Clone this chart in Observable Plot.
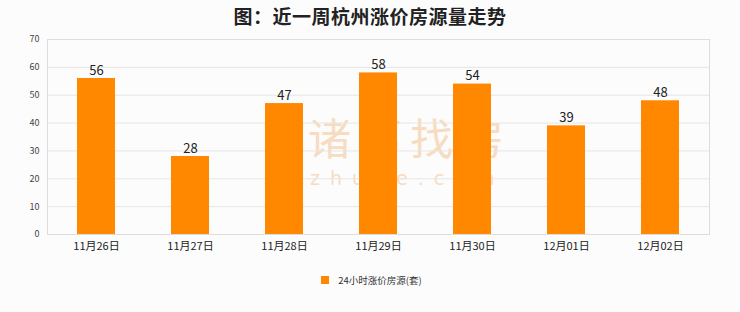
<!DOCTYPE html>
<html><head><meta charset="utf-8">
<script src="https://cdn.jsdelivr.net/npm/d3@7"></script>
<script src="https://cdn.jsdelivr.net/npm/@observablehq/plot@0.6"></script>
<style>
html{margin:0;background:#fcfcfc}
body{margin:0;font-family:"Noto Sans CJK SC",sans-serif;width:740px;height:312px;overflow:hidden;position:relative}
#title{height:30px;line-height:32px;text-align:center;font-size:19px;font-weight:bold;color:#222;letter-spacing:0.5px}
#legend{display:flex;justify-content:center;align-items:center;margin-top:13px;font-size:9.5px;color:#333;padding-left:3px}
#legend span.sw{display:inline-block;width:8px;height:8px;background:#ff8800;margin-right:9px}
#wm{position:absolute;left:308px;top:110px;z-index:-1;color:#f7dcc2;text-align:left}
#wm .a{font-size:43px;line-height:52px;letter-spacing:8px}
#wm .b{font-size:19px;line-height:20px;margin-top:6px;letter-spacing:10px;padding-left:2px;font-family:"DejaVu Sans",sans-serif}
</style></head>
<body>
<div id="wm"><div class="a">诸葛找房</div><div class="b">zhuge.com</div></div>
<div id="title">图：近一周杭州涨价房源量走势</div>
<div id="chart"></div>
<div id="legend"><span class="sw"></span><span>24小时涨价房源(套)</span></div>
<script>
const dates = ["11月26日","11月27日","11月28日","11月29日","11月30日","12月01日","12月02日"];
const values = [56,28,47,58,54,39,48];
const yTicks = [0,10,20,30,40,50,60,70];
const data = dates.map((d,i)=>({date:d,value:values[i]}));
const chart = Plot.plot({
  width:740, height:230,
  marginLeft:47, marginRight:31, marginTop:9, marginBottom:26,
  style:{background:"transparent",fontFamily:"'Noto Sans CJK SC',sans-serif"},
  x:{domain:dates, paddingInner:0.6, paddingOuter:0.3, label:null, tickSize:0, tickPadding:8},
  y:{domain:[0,70], ticks:yTicks, label:null, tickSize:0, tickPadding:8},
  marks:[
    Plot.gridY(yTicks,{stroke:"#e6e6e6",strokeOpacity:1}),
    Plot.frame({stroke:"#dddddd"}),
    Plot.barY(data,{x:"date",y:"value",fill:"#ff8800"}),
    Plot.text(data,{x:"date",y:"value",text:d=>String(d.value),dy:-8,fontSize:13,fill:"#222"}),
    Plot.axisY({ticks:yTicks,tickSize:0,tickPadding:8,fontSize:9,fill:"#444",label:null}),
    Plot.axisX({tickSize:0,tickPadding:8,fontSize:11,fill:"#222",label:null})
  ]
});
document.getElementById("chart").appendChild(chart);
</script>
</body></html>
